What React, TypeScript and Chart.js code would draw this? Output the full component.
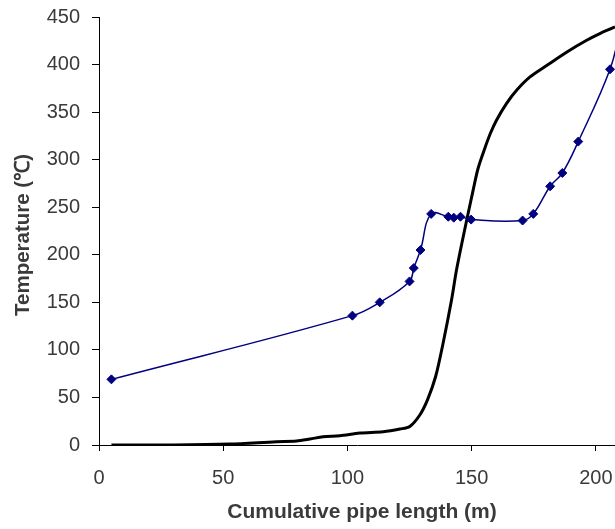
import React, { useEffect, useRef } from 'react';
import { Chart, registerables } from 'chart.js';

Chart.register(...registerables);

// Blue series (measured, with diamond markers)
const blueX = [5, 102, 113, 125, 126.7, 129.4, 133.7, 140.6, 142.8, 145.5, 149.8, 170.5, 174.8, 181.6, 186.5, 192.9, 205.7, 210];
const blueY = [69, 136, 150, 172, 186, 205, 243, 240, 239, 240, 237, 236, 243, 272, 286, 319, 395, 440];

// Black series (continuous curve)
const blackX = [5, 30, 52.6, 71.4, 79.5, 84.9, 90.2, 96.9, 105, 114.4, 121.1, 125.1, 129.2, 132.3, 135.5, 138.5, 141.9, 143.9, 146.6, 148.6, 150.6, 152.6, 155.3, 157.6, 160, 164, 168.1, 173.5, 180.2, 188.2, 196.3, 201.6, 207.7, 212];
const blackY = [0, 0, 1, 3.5, 4.2, 6.3, 8.7, 9.8, 12.6, 14, 16.8, 19.5, 31.8, 48, 72, 107, 152.5, 184, 219, 243.6, 268, 291, 312, 328, 341.5, 359, 373, 387, 399, 413, 425.5, 432.5, 439.5, 444];

const xTitle = 'Cumulative pipe length (m)';
const yTitle = 'Temperature (℃)';
const xMin = 0;
const xMax = 207.7;
const yMin = 0;
const yMax = 450;

const FONT = '"Liberation Sans", Arial, sans-serif';
const TEXT = '#3a3a3a';

const titlePlugin = {
  id: 'axisTitles',
  afterDraw(chart: any) {
    const ctx = chart.ctx;
    ctx.save();
    ctx.fillStyle = TEXT;
    ctx.textAlign = 'center';
    ctx.textBaseline = 'middle';
    ctx.font = `bold 21px ${FONT}`;
    ctx.fillText(xTitle, 362, 512);
    ctx.font = `bold 20.5px ${FONT}`;
    ctx.translate(23, 235);
    ctx.rotate(-Math.PI / 2);
    ctx.fillText(yTitle, 0, 0);
    ctx.restore();
  },
};

export default function App() {
  const ref = useRef<HTMLCanvasElement | null>(null);
  useEffect(() => {
    if (!ref.current) return;
    const chart = new Chart(ref.current, {
      type: 'scatter',
      data: {
        datasets: [
          {
            label: 'Measured',
            data: blueX.map((x, i) => ({ x, y: blueY[i] })),
            showLine: true,
            borderColor: '#000080',
            backgroundColor: '#000080',
            borderWidth: 1.5,
            tension: 0.4,
            pointStyle: 'rectRot',
            pointRadius: 4.5,
            pointBorderWidth: 1,
            pointBorderColor: '#000080',
            pointBackgroundColor: '#000080',
          },
          {
            label: 'Model',
            data: blackX.map((x, i) => ({ x, y: blackY[i] })),
            showLine: true,
            borderColor: '#000000',
            borderWidth: 3,
            tension: 0.3,
            pointRadius: 0,
          },
        ],
      },
      options: {
        responsive: false,
        animation: false,
        layout: { autoPadding: false, padding: { top: 17, left: 0, right: 0, bottom: 0 } },
        plugins: { legend: { display: false }, tooltip: { enabled: false }, title: { display: false } },
        scales: {
          x: {
            type: 'linear',
            min: xMin,
            max: xMax,
            afterFit: (s: any) => { s.height = 84; s.paddingLeft = 0; s.paddingRight = 0; },
            grid: { display: true, drawOnChartArea: false, drawTicks: true, tickLength: 6, tickColor: '#000', color: '#000' },
            border: { display: true, color: '#000', width: 1 },
            ticks: { stepSize: 50, includeBounds: false, font: { family: FONT, size: 20 }, color: TEXT, padding: 15, maxRotation: 0 },
          },
          y: {
            type: 'linear',
            min: yMin,
            max: yMax,
            afterFit: (s: any) => { s.width = 99; s.paddingTop = 0; s.paddingBottom = 0; },
            grid: { display: true, drawOnChartArea: false, drawTicks: true, tickLength: 7, tickColor: '#000', color: '#000' },
            border: { display: true, color: '#000', width: 1 },
            ticks: { stepSize: 50, font: { family: FONT, size: 20 }, color: TEXT, padding: 12 },
          },
        },
      },
      plugins: [titlePlugin],
    });
    return () => chart.destroy();
  }, []);
  return (
    <div style={{ position: 'absolute', left: 0, top: 0, width: 615, height: 529, background: '#fff' }}>
      <canvas ref={ref} width={615} height={529} style={{ display: 'block' }} />
    </div>
  );
}
